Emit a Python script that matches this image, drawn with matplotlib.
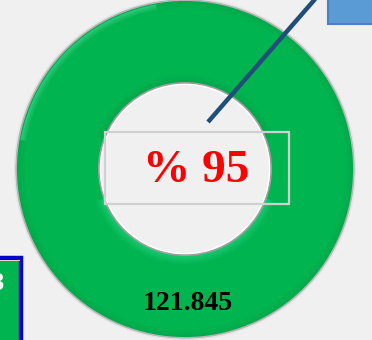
import matplotlib.pyplot as plt
from matplotlib.patches import Rectangle, Circle, Wedge

# chart values
total_value = [121.845]
percent_label = "% 95"
value_label = "121.845"

bg = "#f0f0f0"
green = "#00b550"

fig = plt.figure(figsize=(3.72, 3.40), dpi=100, facecolor=bg)
ax = fig.add_axes([0, 0, 1, 1])

cx, cy = 185, 169
r_out, r_in = 169, 86

# main ring
ax.pie(total_value, center=(cx, cy), radius=r_out, colors=[green],
       startangle=90, counterclock=False, frame=True,
       wedgeprops=dict(width=r_out - r_in, edgecolor="none"))
ax.set_xlim(0, 372)
ax.set_ylim(340, 0)
ax.set_facecolor(bg)
ax.axis("off")


def arc(r, a1, a2, color, alpha, w=1.5):
    # y axis is flipped, so screen angles are mirrored
    ax.add_patch(Wedge((cx, cy), r, -a2, -a1, width=w, color=color,
                       alpha=alpha, lw=0))


# bevel on the outer edge: light upper left, dark elsewhere
for i in range(6):
    a = 0.12 * (1 - i / 6)
    arc(r_out - i * 1.5, 0, 360, "#00552a", a)
for i in range(4):
    a = 0.35 * (1 - i / 4)
    arc(r_out - 2 - i * 1.5, 100, 170, "#7dffc8", a)

# bevel on the inner edge: shadow on top, highlight below
for i in range(7):
    a = 0.18 * (1 - i / 7)
    arc(r_in + i * 1.5, 20, 160, "#00602e", a)
    arc(r_in + i * 1.5, 200, 340, "#6dffd0", a * 1.6)

# rims
ax.add_patch(Circle((cx, cy), r_out, fill=False, ec="#b5b5b5", lw=1.4))
ax.add_patch(Circle((cx, cy), r_out + 1.4, fill=False, ec="#e4e4e4", lw=1.0))
ax.add_patch(Circle((cx, cy), r_in, fill=False, ec="#a0a0a0", lw=1.4))
ax.add_patch(Circle((cx, cy), r_in - 1.4, fill=False, ec="#ffffff", lw=1.0))

# leader line to the callout
ax.plot([208, 316], [122, -2], color="#1f4e79", lw=3.2,
        solid_capstyle="butt", zorder=5)

# callout box, top right
ax.add_patch(Rectangle((328, -5), 50, 29, fc="#5b9bd5", ec="#4a7fc0",
                       lw=1.5, zorder=6))

# legend-like box, bottom left
ax.add_patch(Rectangle((-10, 258), 31, 90, fc=green, ec="#0000cc",
                       lw=3.2, zorder=6))
ax.add_patch(Rectangle((-10, 259.5), 29.5, 1.2, fc="#f6c9c9", lw=0, zorder=7))
ax.text(4, 284, "3", color="white", fontsize=17, fontweight="bold",
        family="Liberation Sans", ha="right", va="center", zorder=7)

# percentage label box
ax.add_patch(Rectangle((105, 132), 184, 72, fill=False, ec="#d0d0d0",
                       lw=1.6, zorder=6))
ax.text(196, 171, percent_label, color="#ff0000", fontsize=34,
        fontweight="bold", family="Liberation Serif",
        ha="center", va="center", zorder=7)

ax.text(188, 303, value_label, color="black", fontsize=20,
        fontweight="bold", family="Liberation Serif",
        ha="center", va="center", zorder=7)

fig.savefig("out.png", dpi=100, facecolor=bg)
